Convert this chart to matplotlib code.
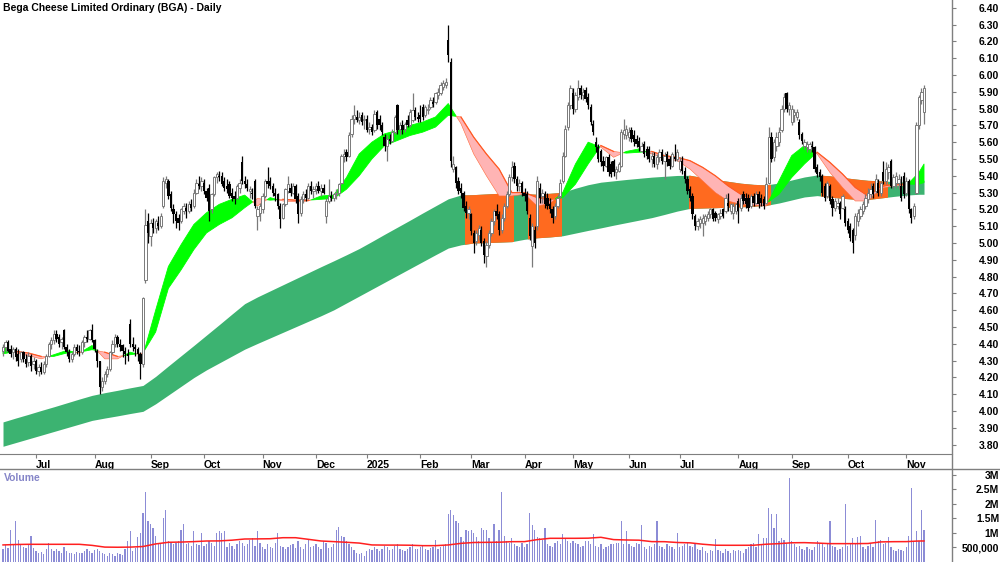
import numpy as np
import pandas as pd
import matplotlib
matplotlib.use("Agg")
import matplotlib.pyplot as plt
from matplotlib.patches import Rectangle
from matplotlib.lines import Line2D

plt.rcParams['font.family'] = ['Liberation Sans', 'DejaVu Sans']

title = "Bega Cheese Limited Ordinary (BGA) - Daily"

# trading calendar (ASX holidays inside the window)
asx_holidays = ['2024-12-25', '2024-12-26', '2025-01-01', '2025-01-27',
                '2025-04-18', '2025-04-21', '2025-04-25', '2025-06-09']
dates = pd.bdate_range('2024-06-12', '2025-11-12')
dates = dates[~dates.isin(pd.to_datetime(asx_holidays))]

# daily prices, one row per month
opens = [
    4.36,4.38,4.41,4.37,4.35,4.37,4.34,4.31,4.35,4.31,4.29,4.33,4.28,
    4.30,4.24,4.26,4.23,4.28,4.33,4.40,4.42,4.46,4.44,4.41,4.48,4.38,4.35,4.31,4.34,4.38,4.36,4.35,4.41,4.44,4.43,4.48,
    4.42,4.36,4.30,4.14,4.18,4.22,4.25,4.35,4.40,4.44,4.40,4.39,4.36,4.34,4.52,4.40,4.38,4.37,4.34,4.28,4.78,5.13,
    5.04,5.12,5.09,5.12,5.10,5.22,5.36,5.37,5.29,5.20,5.17,5.15,5.13,5.19,5.21,5.19,5.23,5.22,5.30,5.35,5.34,
    5.36,5.31,5.33,5.20,5.29,5.39,5.40,5.40,5.37,5.34,5.35,5.30,5.28,5.27,5.33,5.48,5.37,5.35,5.31,5.30,5.37,5.16,5.18,
    5.20,5.28,5.37,5.37,5.34,5.30,5.29,5.22,5.15,5.23,5.31,5.33,5.30,5.34,5.28,5.18,5.26,5.29,5.27,5.34,5.31,
    5.32,5.34,5.31,5.33,5.16,5.25,5.28,5.27,5.29,5.30,5.36,5.52,5.54,5.52,5.65,5.74,5.75,5.73,5.76,5.73,
    5.74,5.68,5.69,5.67,5.78,5.74,5.70,5.63,5.58,5.62,5.61,5.66,5.82,5.68,5.70,5.68,5.73,5.70,5.73,5.79,5.75,
    5.76,5.81,5.76,5.79,5.81,5.84,5.84,5.88,5.89,5.93,5.94,6.21,6.08,5.44,5.45,5.37,5.33,5.30,5.22,5.18,
    5.17,5.06,5.01,5.05,5.08,5.01,4.92,4.99,5.06,5.13,5.19,5.17,5.08,5.15,5.22,5.29,5.39,5.46,5.38,5.34,5.36,
    5.30,5.29,5.15,4.98,5.08,5.10,5.33,5.28,5.29,5.27,5.23,5.20,5.16,5.22,5.28,5.37,5.52,5.69,5.82,
    5.89,5.80,5.87,5.92,5.88,5.91,5.87,5.81,5.71,5.60,5.57,5.55,5.49,5.46,5.51,5.47,5.49,5.42,5.43,5.46,5.65,5.64,
    5.63,5.67,5.64,5.62,5.61,5.55,5.59,5.56,5.56,5.50,5.52,5.47,5.51,5.54,5.49,5.53,5.50,5.46,5.51,5.50,
    5.44,5.49,5.43,5.38,5.32,5.28,5.16,5.10,5.12,5.12,5.13,5.15,5.17,5.20,5.18,5.14,5.16,5.20,5.19,5.24,5.19,5.18,5.19,
    5.25,5.21,5.29,5.27,5.27,5.22,5.28,5.24,5.29,5.27,5.26,5.24,5.36,5.63,5.51,5.58,5.60,5.67,5.80,5.89,5.80,
    5.72,5.76,5.75,5.72,5.65,5.58,5.57,5.56,5.58,5.57,5.45,5.42,5.40,5.34,5.28,5.34,5.26,5.21,5.22,5.24,5.21,5.20,
    5.13,5.10,5.08,5.05,5.13,5.16,5.19,5.22,5.26,5.29,5.34,5.31,5.36,5.30,5.42,5.37,5.42,5.49,5.34,5.36,5.36,5.34,5.40,
    5.30,5.37,5.20,5.16,5.30,5.70,5.85,5.78,
]
highs = [
    4.40,4.42,4.42,4.39,4.38,4.38,4.37,4.36,4.36,4.34,4.35,4.34,4.32,
    4.31,4.28,4.29,4.30,4.34,4.41,4.44,4.48,4.48,4.46,4.44,4.49,4.40,4.37,4.35,4.40,4.40,4.39,4.42,4.45,4.48,4.49,4.52,
    4.43,4.37,4.30,4.20,4.24,4.27,4.36,4.42,4.46,4.45,4.43,4.40,4.38,4.37,4.55,4.44,4.40,4.38,4.35,4.68,5.20,5.18,
    5.14,5.15,5.14,5.16,5.18,5.39,5.40,5.38,5.31,5.23,5.19,5.17,5.21,5.24,5.24,5.25,5.26,5.32,5.38,5.40,5.39,
    5.38,5.33,5.35,5.30,5.40,5.42,5.43,5.42,5.39,5.38,5.37,5.33,5.31,5.35,5.38,5.52,5.40,5.38,5.34,5.33,5.38,5.22,5.24,
    5.30,5.38,5.45,5.39,5.36,5.33,5.30,5.24,5.24,5.33,5.40,5.36,5.36,5.35,5.30,5.28,5.31,5.32,5.36,5.37,5.34,
    5.36,5.37,5.35,5.35,5.27,5.38,5.31,5.30,5.32,5.36,5.53,5.56,5.56,5.66,5.76,5.82,5.79,5.78,5.78,5.76,
    5.76,5.72,5.71,5.79,5.79,5.76,5.72,5.65,5.64,5.65,5.68,5.76,5.83,5.72,5.73,5.72,5.76,5.80,5.89,5.81,5.78,
    5.82,5.83,5.82,5.83,5.87,5.87,5.90,5.92,5.96,5.97,5.98,6.30,6.10,5.52,5.46,5.39,5.36,5.31,5.25,5.22,
    5.18,5.08,5.08,5.11,5.10,5.03,5.01,5.08,5.15,5.20,5.23,5.19,5.17,5.24,5.31,5.41,5.49,5.48,5.40,5.38,5.37,
    5.33,5.31,5.17,5.12,5.10,5.40,5.36,5.32,5.31,5.30,5.27,5.22,5.24,5.29,5.38,5.54,5.70,5.84,5.94,
    5.92,5.90,5.97,5.94,5.92,5.93,5.89,5.83,5.73,5.63,5.59,5.56,5.52,5.52,5.53,5.49,5.50,5.46,5.48,5.68,5.74,5.70,
    5.69,5.69,5.67,5.64,5.63,5.60,5.61,5.58,5.58,5.54,5.54,5.53,5.56,5.56,5.54,5.55,5.52,5.54,5.59,5.56,
    5.51,5.52,5.45,5.40,5.34,5.30,5.17,5.15,5.16,5.17,5.17,5.19,5.21,5.21,5.19,5.18,5.20,5.21,5.29,5.30,5.24,5.24,5.24,
    5.27,5.29,5.31,5.30,5.29,5.29,5.30,5.31,5.31,5.29,5.28,5.39,5.69,5.66,5.62,5.66,5.69,5.82,5.89,5.90,5.84,
    5.82,5.80,5.80,5.74,5.66,5.62,5.61,5.60,5.61,5.58,5.47,5.44,5.41,5.36,5.37,5.35,5.28,5.27,5.27,5.25,5.29,5.22,
    5.15,5.12,5.09,5.18,5.20,5.22,5.25,5.29,5.33,5.36,5.36,5.41,5.38,5.37,5.49,5.48,5.47,5.50,5.41,5.42,5.41,5.40,5.42,
    5.39,5.38,5.21,5.24,5.72,5.88,5.92,5.94,
]
lows = [
    4.33,4.35,4.35,4.32,4.31,4.30,4.27,4.29,4.29,4.26,4.27,4.24,4.25,
    4.22,4.21,4.22,4.22,4.26,4.32,4.37,4.40,4.41,4.38,4.37,4.37,4.33,4.29,4.29,4.33,4.34,4.33,4.34,4.38,4.41,4.42,4.41,
    4.35,4.26,4.10,4.12,4.16,4.20,4.24,4.34,4.38,4.38,4.36,4.32,4.28,4.30,4.38,4.36,4.33,4.30,4.19,4.26,4.76,5.00,
    4.98,5.06,5.06,5.08,5.09,5.21,5.33,5.26,5.19,5.12,5.09,5.08,5.12,5.17,5.15,5.18,5.19,5.21,5.29,5.32,5.31,
    5.29,5.25,5.13,5.18,5.28,5.36,5.37,5.34,5.31,5.30,5.27,5.25,5.23,5.26,5.30,5.35,5.33,5.31,5.27,5.26,5.21,5.08,5.13,
    5.18,5.27,5.33,5.32,5.28,5.25,5.20,5.09,5.14,5.22,5.30,5.28,5.29,5.24,5.12,5.16,5.24,5.25,5.26,5.29,5.27,
    5.29,5.30,5.28,5.29,5.12,5.24,5.25,5.25,5.26,5.28,5.35,5.48,5.49,5.51,5.63,5.71,5.72,5.71,5.70,5.68,
    5.66,5.65,5.64,5.66,5.68,5.67,5.64,5.55,5.49,5.59,5.60,5.65,5.65,5.64,5.65,5.66,5.69,5.69,5.72,5.73,5.72,
    5.72,5.73,5.75,5.77,5.80,5.81,5.83,5.86,5.88,5.91,5.92,6.08,5.45,5.42,5.33,5.29,5.27,5.19,5.15,5.14,
    5.05,4.94,4.99,5.02,4.98,4.88,4.86,4.97,5.04,5.11,5.14,5.05,5.06,5.13,5.21,5.28,5.37,5.36,5.31,5.31,5.28,
    5.25,5.17,5.02,4.86,4.97,5.08,5.24,5.24,5.21,5.20,5.18,5.12,5.14,5.21,5.27,5.36,5.51,5.67,5.80,
    5.77,5.78,5.85,5.86,5.85,5.84,5.80,5.70,5.64,5.54,5.48,5.46,5.43,5.45,5.40,5.39,5.40,5.38,5.42,5.45,5.62,5.62,
    5.61,5.60,5.58,5.57,5.55,5.54,5.51,5.50,5.48,5.45,5.45,5.44,5.48,5.47,5.38,5.46,5.44,5.45,5.49,5.49,
    5.42,5.41,5.36,5.29,5.25,5.14,5.08,5.08,5.09,5.04,5.11,5.13,5.15,5.13,5.13,5.12,5.14,5.15,5.18,5.19,5.17,5.14,5.17,
    5.12,5.19,5.23,5.21,5.19,5.21,5.22,5.23,5.21,5.22,5.20,5.23,5.35,5.48,5.49,5.55,5.58,5.66,5.78,5.78,5.76,
    5.70,5.72,5.73,5.62,5.59,5.56,5.54,5.54,5.54,5.42,5.39,5.37,5.28,5.25,5.27,5.23,5.16,5.19,5.20,5.14,5.20,5.10,
    5.06,5.01,4.94,5.02,5.10,5.14,5.17,5.20,5.24,5.27,5.27,5.30,5.28,5.28,5.35,5.35,5.38,5.33,5.32,5.33,5.32,5.25,5.27,
    5.28,5.18,5.12,5.14,5.29,5.68,5.83,5.71,
]
closes = [
    4.38,4.41,4.36,4.34,4.37,4.32,4.30,4.35,4.31,4.28,4.33,4.27,4.30,
    4.24,4.26,4.23,4.28,4.33,4.40,4.42,4.46,4.43,4.40,4.43,4.38,4.35,4.31,4.34,4.38,4.36,4.35,4.41,4.44,4.43,4.48,4.42,
    4.37,4.30,4.14,4.18,4.22,4.25,4.35,4.40,4.44,4.40,4.38,4.36,4.34,4.33,4.40,4.38,4.37,4.34,4.28,4.67,5.11,5.06,
    5.12,5.09,5.13,5.10,5.16,5.37,5.38,5.28,5.21,5.17,5.13,5.12,5.20,5.22,5.19,5.23,5.21,5.30,5.36,5.34,5.37,
    5.31,5.27,5.19,5.29,5.39,5.41,5.39,5.35,5.33,5.32,5.28,5.27,5.26,5.34,5.36,5.37,5.35,5.33,5.32,5.29,5.22,5.20,5.22,
    5.28,5.37,5.35,5.34,5.30,5.28,5.22,5.14,5.23,5.32,5.35,5.30,5.34,5.26,5.17,5.26,5.29,5.27,5.34,5.31,5.32,
    5.34,5.31,5.33,5.30,5.25,5.28,5.27,5.29,5.30,5.35,5.52,5.53,5.51,5.64,5.74,5.76,5.73,5.75,5.72,5.74,
    5.67,5.69,5.66,5.77,5.70,5.70,5.66,5.58,5.62,5.61,5.66,5.75,5.67,5.70,5.67,5.71,5.70,5.78,5.79,5.75,5.74,
    5.74,5.75,5.81,5.80,5.85,5.83,5.89,5.90,5.94,5.95,5.96,6.12,5.49,5.47,5.36,5.31,5.30,5.21,5.18,5.20,
    5.07,5.00,5.06,5.09,5.00,4.93,4.99,5.06,5.13,5.19,5.16,5.08,5.15,5.22,5.29,5.39,5.45,5.38,5.34,5.36,5.30,
    5.28,5.19,5.04,5.10,5.00,5.37,5.27,5.30,5.23,5.22,5.20,5.15,5.22,5.27,5.36,5.52,5.68,5.82,5.92,
    5.80,5.88,5.92,5.88,5.90,5.86,5.82,5.72,5.66,5.57,5.50,5.48,5.46,5.51,5.42,5.41,5.42,5.44,5.47,5.66,5.67,5.68,
    5.66,5.62,5.60,5.59,5.57,5.58,5.53,5.52,5.50,5.52,5.47,5.51,5.54,5.49,5.52,5.48,5.46,5.53,5.50,5.54,
    5.49,5.43,5.38,5.31,5.27,5.17,5.10,5.13,5.14,5.15,5.16,5.17,5.20,5.14,5.15,5.17,5.18,5.16,5.27,5.22,5.23,5.22,5.23,
    5.19,5.27,5.25,5.23,5.21,5.28,5.24,5.29,5.23,5.24,5.22,5.35,5.63,5.50,5.60,5.63,5.66,5.80,5.87,5.80,5.82,
    5.80,5.78,5.78,5.64,5.61,5.60,5.59,5.59,5.57,5.44,5.41,5.39,5.30,5.27,5.36,5.25,5.21,5.25,5.24,5.17,5.28,5.12,
    5.08,5.03,5.00,5.16,5.18,5.20,5.23,5.27,5.30,5.32,5.29,5.38,5.30,5.36,5.37,5.44,5.45,5.34,5.39,5.40,5.38,5.27,5.29,
    5.37,5.20,5.15,5.22,5.70,5.87,5.90,5.92,
]
# volume, thousands of shares
volume_k = [
    420,560,480,1100,600,1400,750,560,520,480,600,900,460,
    380,300,320,250,420,650,450,380,420,350,300,520,380,300,280,250,330,280,300,350,420,380,300,
    400,420,380,300,250,200,280,250,200,300,260,220,450,700,1050,380,480,850,1000,1700,2400,1400,
    1300,1150,900,650,600,1500,1800,700,650,600,640,700,1100,1300,600,650,550,1050,600,580,1000,
    550,600,700,650,550,1000,1050,1000,1050,500,650,550,450,600,700,650,550,600,750,800,550,1050,650,
    500,450,600,520,480,650,1000,550,500,450,520,580,600,480,700,500,450,600,750,500,550,
    600,520,450,700,650,480,520,600,1100,1200,900,850,700,600,500,400,300,250,280,200,
    350,450,400,500,420,380,450,550,500,400,450,550,600,420,400,380,450,500,600,420,450,
    500,550,450,400,480,500,750,450,500,550,600,1650,1800,1600,1400,1350,850,700,1100,1050,
    1100,1000,850,700,1150,1100,1100,800,650,1300,700,1100,2400,900,700,650,800,600,550,500,650,
    500,600,1700,1250,1100,850,800,750,1150,600,550,500,650,700,600,950,800,700,650,
    700,650,600,500,550,700,700,600,950,550,500,600,450,500,550,600,600,650,650,1400,600,1050,
    600,550,500,650,600,1250,500,450,550,500,600,1400,550,500,450,600,550,500,450,1000,
    500,550,600,650,550,500,600,450,400,500,350,300,400,350,770,400,350,300,450,350,300,400,350,
    400,350,300,450,500,600,650,500,950,600,800,800,1850,1650,1150,1650,700,800,750,650,2900,
    700,600,500,550,450,400,500,450,400,500,700,650,600,500,600,1400,550,500,400,450,500,2000,
    550,600,800,650,850,900,500,450,550,600,500,1450,700,750,600,650,850,500,400,350,450,400,350,
    500,900,2550,700,1050,700,1800,1100,
]

# moving-average bands read weekly (every 5th bar, plus the last bar)
long_top = [
    3.935,3.958,3.980,4.003,4.025,4.048,4.071,4.093,4.109,4.123,
    4.138,4.152,4.206,4.268,4.329,4.390,4.452,4.514,4.577,4.639,
    4.679,4.715,4.751,4.787,4.823,4.859,4.894,4.930,4.967,5.009,
    5.052,5.094,5.136,5.179,5.221,5.263,5.286,5.288,5.292,5.296,
    5.300,5.294,5.290,5.296,5.302,5.326,5.347,5.362,5.370,5.378,
    5.385,5.392,5.397,5.402,5.403,5.390,5.378,5.367,5.356,5.349,
    5.346,5.357,5.375,5.393,5.405,5.400,5.390,5.381,5.373,5.370,
    5.366,5.362,5.367,5.373,
]
long_bottom = [
    3.790,3.812,3.834,3.856,3.878,3.900,3.922,3.944,3.958,3.971,
    3.985,3.998,4.043,4.095,4.147,4.199,4.245,4.286,4.327,4.368,
    4.402,4.435,4.468,4.501,4.534,4.567,4.602,4.643,4.684,4.725,
    4.766,4.807,4.848,4.889,4.930,4.970,4.989,5.000,5.002,5.005,
    5.008,5.022,5.031,5.036,5.043,5.059,5.075,5.090,5.106,5.121,
    5.136,5.151,5.170,5.190,5.206,5.208,5.210,5.213,5.215,5.219,
    5.224,5.238,5.256,5.274,5.282,5.273,5.266,5.260,5.259,5.268,
    5.277,5.285,5.290,5.290,
]
short_fast = [
    4.38,4.345,4.33,4.31,4.335,4.36,4.345,4.39,4.31,4.31,
    4.35,4.33,4.60,4.86,4.99,5.11,5.18,5.23,5.26,5.285,
    5.22,5.27,5.25,5.245,5.25,5.28,5.285,5.39,5.53,5.60,
    5.65,5.67,5.70,5.72,5.75,5.83,5.71,5.53,5.40,5.28,
    5.28,5.29,5.22,5.235,5.30,5.47,5.60,5.57,5.51,5.545,
    5.56,5.53,5.505,5.49,5.44,5.37,5.30,5.25,5.23,5.225,
    5.22,5.37,5.52,5.58,5.53,5.42,5.33,5.25,5.25,5.325,
    5.34,5.34,5.42,5.47,
]
short_slow = [
    4.34,4.355,4.345,4.325,4.325,4.345,4.35,4.365,4.35,4.325,
    4.335,4.345,4.47,4.73,4.84,4.96,5.06,5.11,5.15,5.21,
    5.265,5.255,5.26,5.255,5.255,5.26,5.265,5.32,5.40,5.50,
    5.58,5.61,5.64,5.66,5.69,5.76,5.75,5.63,5.53,5.44,
    5.30,5.30,5.27,5.255,5.27,5.35,5.47,5.58,5.545,5.535,
    5.54,5.545,5.52,5.51,5.49,5.45,5.40,5.34,5.29,5.255,
    5.235,5.29,5.39,5.47,5.54,5.48,5.41,5.33,5.28,5.335,
    5.35,5.35,5.35,5.36,
]
vol_avg_k = [
    575,590,597,597,597,597,597,560,500,495,
    500,520,610,667,675,690,712,715,740,781,
    785,790,826,826,770,712,690,667,640,575,
    570,570,565,550,550,575,630,660,665,670,
    688,690,760,805,805,805,810,840,760,747,
    740,690,688,660,648,600,565,563,563,565,
    600,620,650,655,640,620,620,620,625,680,
    688,690,712,712,
]
# periods where the long-term band is shaded orange
long_orange = [('2025-02-27', '2025-03-25'), ('2025-04-03', '2025-04-23'),
               ('2025-07-07', '2025-08-19'), ('2025-09-17', '2025-10-22')]

n = len(dates)
assert n == len(opens) == len(highs) == len(lows) == len(closes) == len(volume_k)
x = np.arange(n)
o, h, l, c = (np.array(v) for v in (opens, highs, lows, closes))
vol = np.array(volume_k) * 1000.0
samp = np.r_[np.arange(0, n, 5), n - 1]
sf, ss = np.array(short_fast), np.array(short_slow)

fig = plt.figure(figsize=(10, 5.62), dpi=100)
ax = fig.add_axes([0, 108 / 562, 0.952, 454 / 562])
axv = fig.add_axes([0, 0, 0.952, 93 / 562])

# long-term band
ax.fill_between(samp, long_bottom, long_top, color='#3cb371', lw=0, zorder=1)
for a, b in long_orange:
    i0, i1 = dates.get_loc(pd.Timestamp(a)), dates.get_loc(pd.Timestamp(b))
    p = ax.fill_between(samp, long_bottom, long_top, color='#ff6a1f', lw=0, zorder=1.1)
    p.set_clip_path(Rectangle((i0 - 0.5, 0), i1 - i0 + 1, 10, transform=ax.transData))

# short-term band: green while rising, pink with a red-orange top while falling
falling = sf < ss
ax.fill_between(samp, ss, sf, where=~falling, interpolate=True,
                facecolor='#00ff00', edgecolor='#00ff00', lw=0.6, zorder=2)
ax.fill_between(samp, ss, sf, where=falling, interpolate=True,
                facecolor='#ffb4b4', edgecolor='#ff6a3a', lw=0.4, zorder=2)
ax.plot(samp, np.ma.masked_where(~falling, ss), color='#ff5a24', lw=0.9, zorder=2.1)

# candles
up = c >= o
ax.vlines(x[up], l[up], h[up], color='#7a7a7a', lw=0.9, zorder=3)
ax.vlines(x[~up], l[~up], h[~up], color='black', lw=0.9, zorder=3)
ax.bar(x[up], (c - o)[up], bottom=o[up], width=0.9, facecolor='white',
       edgecolor='#7a7a7a', lw=0.7, zorder=4)
ax.bar(x[~up], (c - o)[~up], bottom=o[~up], width=0.9, color='black', lw=0, zorder=4)

ax.set_xlim(-1.18, 373)
ax.set_ylim(3.744, 6.4464)

# volume panel
axv.bar(x, vol, width=0.5, color='#8c8cd6', lw=0)
axv.plot(samp, np.array(vol_avg_k) * 1000, color='#ff2020', lw=1.1)
axv.set_xlim(-1.18, 373)
axv.set_ylim(-17000, 3.21e6)

# axes styling
for a_ in (ax, axv):
    for s in a_.spines.values():
        s.set_visible(False)
    a_.yaxis.tick_right()
ax.spines['bottom'].set_visible(True)
ax.spines['bottom'].set_color('#7f7f7f')

yt = np.round(np.arange(3.8, 6.41, 0.1), 2)
ax.set_yticks(yt)
ax.set_yticklabels([f'{v:.2f}' for v in yt], ha='right', fontweight='bold')
ax.tick_params(axis='y', direction='out', length=3, width=0.8, color='#7f7f7f',
               pad=31, labelsize=7.5)

month_pos = [i for i in range(1, n) if dates[i].month != dates[i - 1].month]
month_lbl = [str(dates[i].year) if dates[i].month == 1 else dates[i].strftime('%b')
             for i in month_pos]
ax.set_xticks(month_pos)
ax.set_xticklabels(month_lbl, ha='left', fontweight='bold')
ax.tick_params(axis='x', direction='out', length=3, width=0.8, color='#7f7f7f',
               pad=1, labelsize=7.5)

vt = [5e5, 1e6, 1.5e6, 2e6, 2.5e6, 3e6]
axv.set_yticks(vt)
axv.set_yticklabels(['500,000', '1M', '1.5M', '2M', '2.5M', '3M'], ha='right',
                    fontweight='bold')
axv.tick_params(axis='y', direction='out', length=3, width=0.8, color='#7f7f7f',
                pad=31, labelsize=7.5)
axv.tick_params(axis='x', bottom=False, labelbottom=False)

# frame lines
fig.add_artist(Line2D([0.952, 0.952], [0, 1], color='#7f7f7f', lw=1))
fig.add_artist(Line2D([0, 1], [93 / 562, 93 / 562], color='#7f7f7f', lw=1))

fig.text(0.003, 1 - 8 / 562, title, fontsize=7.5, fontweight='bold', va='center')
fig.text(0.004, 1 - 478 / 562, 'Volume', fontsize=7.5, fontweight='bold',
         color='#8585c8', va='center')

fig.savefig('out.png', dpi=100)
